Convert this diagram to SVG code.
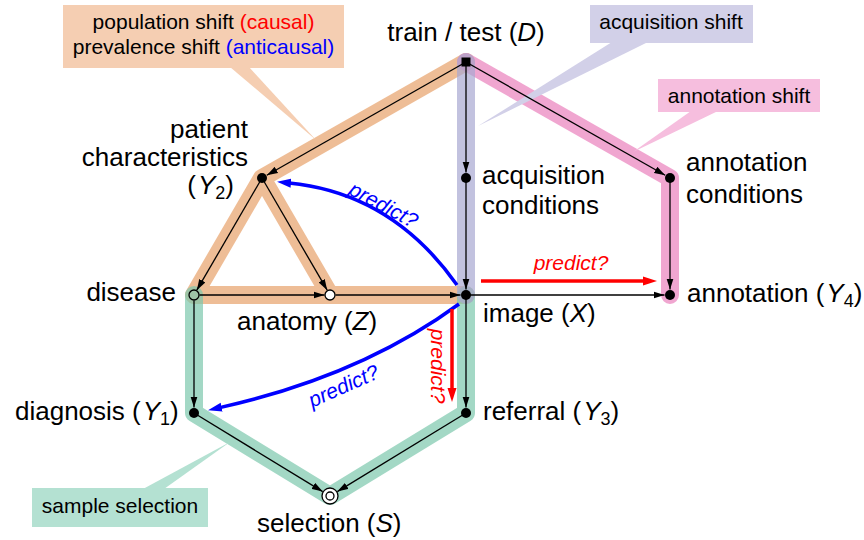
<svg xmlns="http://www.w3.org/2000/svg" width="864" height="540" viewBox="0 0 864 540">
<style>
text{font-family:"Liberation Sans",Arial,sans-serif}
.lbl{font-size:26px}
.call{font-size:21px}
.pred{font-size:21px;font-style:italic}
.it{font-style:italic}
.band{fill:none;stroke-width:18;stroke-linecap:round;stroke-linejoin:round;stroke-opacity:0.7}
.edge{fill:none;stroke:#000;stroke-width:1.3;marker-end:url(#ah)}
.dot{fill:#000}
.open{stroke:#000;stroke-width:1.3}
</style>
<defs>
<marker id="ah" markerUnits="userSpaceOnUse" viewBox="0 0 11 8" markerWidth="11" markerHeight="8" refX="11" refY="4" orient="auto"><path d="M0,0.5 L11,4 L0,7.5 z" fill="#000"/></marker>
<marker id="ab" markerUnits="userSpaceOnUse" viewBox="0 0 14 10" markerWidth="14" markerHeight="10" refX="2" refY="5" orient="auto"><path d="M0,0.5 L14,5 L0,9.5 z" fill="#0000ff"/></marker>
<marker id="ar" markerUnits="userSpaceOnUse" viewBox="0 0 14 10" markerWidth="14" markerHeight="10" refX="2" refY="5" orient="auto"><path d="M0,0.5 L14,5 L0,9.5 z" fill="#ff0000"/></marker>
</defs>

<g id="bands">
<path class="band" stroke="#e7a16a" d="M466,62 L262,178 L194,295 L466,295 M262,178 L330,295"/>
<path class="band" stroke="#7cc7ac" d="M194,295 L194,413 L330,496 L466,413 L466,295"/>
<path class="band" stroke="#ea80bc" d="M466,62 L670,178 L670,295"/>
<path class="band" stroke="#a8a8d1" d="M466,62 L466,295"/>
</g>

<g id="callouts">
<g id="population-shift">
<polygon points="230,67 249,67 316,140" fill="#f5ceb2"/>
<rect x="63" y="5" width="281" height="63" fill="#f5ceb2"/>
<text class="call" x="203.5" y="29" text-anchor="middle">population shift <tspan fill="#ff0000">(causal)</tspan></text>
<text class="call" x="203.5" y="54" text-anchor="middle">prevalence shift <tspan fill="#0000ff">(anticausal)</tspan></text>
</g>
<g id="acquisition-shift">
<polygon points="612,42 648,42 478,126" fill="#d2d0e8"/>
<rect x="590" y="5" width="163" height="38" fill="#d2d0e8"/>
<text class="call" x="671" y="29" text-anchor="middle">acquisition shift</text>
</g>
<g id="annotation-shift">
<polygon points="691,111 718,111 633,152" fill="#f6bede"/>
<rect x="658" y="79" width="162" height="33" fill="#f6bede"/>
<text class="call" x="739" y="103" text-anchor="middle">annotation shift</text>
</g>
<g id="sample-selection">
<polygon points="143,489 164,489 230,442" fill="#b4e1d2"/>
<rect x="32" y="488" width="176" height="39" fill="#b4e1d2"/>
<text class="call" x="120" y="513" text-anchor="middle">sample selection</text>
</g>
</g>

<g id="connectors">
<path class="edge" d="M466,62 L266.8,175.3"/>
<path class="edge" d="M466,62 L466,172.5"/>
<path class="edge" d="M466,62 L665.2,175.3"/>
<path class="edge" d="M262,178 L196.8,290.2"/>
<path class="edge" d="M262,178 L327.2,290.2"/>
<path class="edge" d="M199.5,295 L324.5,295"/>
<path class="edge" d="M335.5,295 L460.5,295"/>
<path class="edge" d="M466,178 L466,289.5"/>
<path class="edge" d="M670,178 L670,289.5"/>
<path class="edge" d="M466,295 L664.5,295"/>
<path class="edge" d="M194,300.5 L194,407.5"/>
<path class="edge" d="M466,295 L466,407.5"/>
<path class="edge" d="M194,413 L322.7,491.6"/>
<path class="edge" d="M466,413 L337.3,491.6"/>
<g id="predict-arrows">
<path d="M457,285 Q392,193 289,183" fill="none" stroke="#0000ff" stroke-width="3.5" marker-end="url(#ab)"/>
<text class="pred" fill="#0000ff" transform="translate(383,206) rotate(28)" x="0" y="6" text-anchor="middle">predict?</text>
<path d="M459,304 Q360.6,376.2 219.7,407.6" fill="none" stroke="#0000ff" stroke-width="3.5" marker-end="url(#ab)"/>
<text class="pred" fill="#0000ff" transform="translate(344,387) rotate(-24)" x="0" y="6" text-anchor="middle">predict?</text>
<path d="M481,281 L645,281" fill="none" stroke="#ff0000" stroke-width="3.5" marker-end="url(#ar)"/>
<text class="pred" fill="#ff0000" x="571" y="270" text-anchor="middle">predict?</text>
<path d="M452,309 L452,390" fill="none" stroke="#ff0000" stroke-width="3.5" marker-end="url(#ar)"/>
<text class="pred" fill="#ff0000" transform="translate(437,366) rotate(90)" x="0" y="6" text-anchor="middle">predict?</text>
</g>
</g>

<g id="node-D">
<rect x="461.5" y="57.5" width="9" height="9" fill="#000"/>
<text class="lbl" x="466" y="41" text-anchor="middle">train / test (<tspan class="it">D</tspan>)</text>
</g>
<g id="node-Y2">
<circle class="dot" cx="262" cy="178" r="5"/>
<text class="lbl" x="248" y="138" text-anchor="end">patient</text>
<text class="lbl" x="248" y="166" text-anchor="end">characteristics</text>
<text class="lbl" x="234" y="194" text-anchor="end">(<tspan class="it" dx="2">Y</tspan><tspan font-size="18" dy="5">2</tspan><tspan dy="-5">)</tspan></text>
</g>
<g id="node-acquisition">
<circle class="dot" cx="466" cy="178" r="5"/>
<text class="lbl" x="482" y="184">acquisition</text>
<text class="lbl" x="482" y="214">conditions</text>
</g>
<g id="node-annotation-conditions">
<circle class="dot" cx="670" cy="178" r="5"/>
<text class="lbl" x="686" y="171">annotation</text>
<text class="lbl" x="686" y="203">conditions</text>
</g>
<g id="node-disease">
<circle class="open" cx="194" cy="295" r="5" fill="none"/>
<text class="lbl" x="176" y="301" text-anchor="end">disease</text>
</g>
<g id="node-Z">
<circle class="open" cx="330" cy="295" r="5" fill="#fff"/>
<text class="lbl" x="237" y="330">anatomy (<tspan class="it">Z</tspan>)</text>
</g>
<g id="node-X">
<circle class="dot" cx="466" cy="295" r="5"/>
<text class="lbl" x="483" y="322">image (<tspan class="it">X</tspan>)</text>
</g>
<g id="node-Y4">
<circle class="dot" cx="670" cy="295" r="5"/>
<text class="lbl" x="687" y="302">annotation (<tspan class="it" dx="2">Y</tspan><tspan font-size="18" dy="5">4</tspan><tspan dy="-5">)</tspan></text>
</g>
<g id="node-Y1">
<circle class="dot" cx="194" cy="413" r="5"/>
<text class="lbl" x="15" y="420">diagnosis (<tspan class="it" dx="2">Y</tspan><tspan font-size="18" dy="5">1</tspan><tspan dy="-5">)</tspan></text>
</g>
<g id="node-Y3">
<circle class="dot" cx="466" cy="413" r="5"/>
<text class="lbl" x="483" y="420">referral (<tspan class="it" dx="2">Y</tspan><tspan font-size="18" dy="5">3</tspan><tspan dy="-5">)</tspan></text>
</g>
<g id="node-S">
<circle class="open" cx="330" cy="496" r="8" fill="#fff"/>
<circle class="open" cx="330" cy="496" r="4" fill="none"/>
<text class="lbl" x="257" y="532">selection (<tspan class="it">S</tspan>)</text>
</g>
</svg>
